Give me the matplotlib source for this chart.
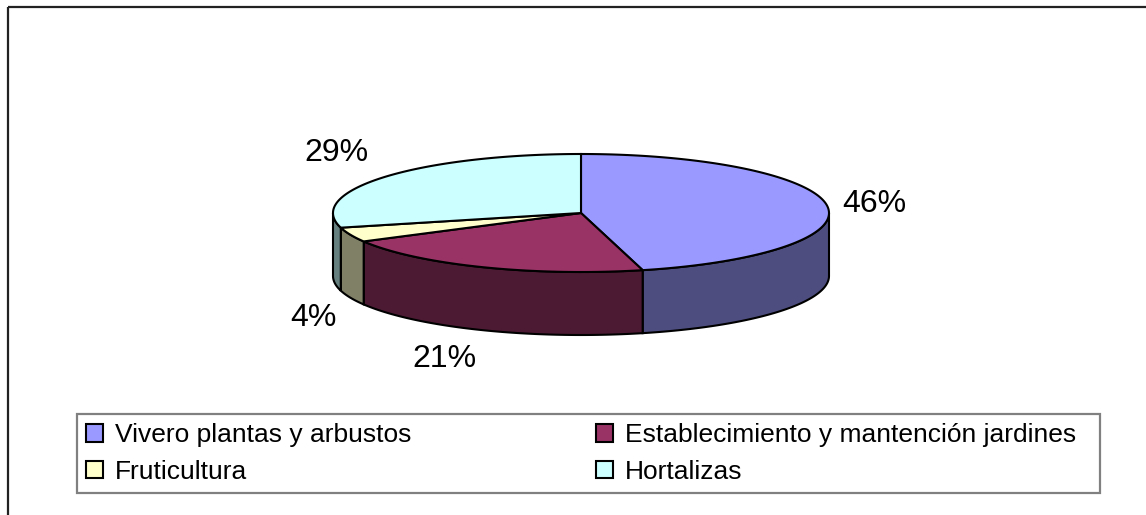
import numpy as np
import matplotlib
matplotlib.use("Agg")
import matplotlib.pyplot as plt
from matplotlib.patches import Polygon, Patch, Rectangle
from matplotlib.colors import to_rgb

plt.rcParams['font.family'] = ['Liberation Sans', 'DejaVu Sans']

# data
labels = ['Vivero plantas y arbustos', 'Establecimiento y mantención jardines',
          'Fruticultura', 'Hortalizas']
shares = [46, 21, 4, 29]
pct_text = ['46%', '21%', '4%', '29%']
top_colors = ['#9999FF', '#993366', '#FFFFCC', '#CCFFFF']

# pie geometry (pixels, y down)
cx, cy = 581, 213
rx, ry = 248, 59
depth = 63

def rim(th, dy=0):
    th = np.radians(th)
    return np.column_stack([cx + rx * np.sin(th), cy - ry * np.cos(th) + dy])

fig = plt.figure(figsize=(11.46, 5.15), dpi=100)
ax = fig.add_axes([0, 0, 1, 1])
ax.set_xlim(0, 1146)
ax.set_ylim(515, 0)
ax.axis('off')

# outer chart border
ax.add_patch(Rectangle((8, 7), 1200, 600, fill=False, edgecolor='#222222', lw=1.6))

fracs = np.array(shares) / sum(shares)
edges = np.concatenate([[0], np.cumsum(fracs) * 360])

# side walls (front half only, 90..270 deg clockwise from top)
for i in range(len(shares)):
    a, b = max(edges[i], 90), min(edges[i + 1], 270)
    if b <= a:
        continue
    th = np.linspace(a, b, 80)
    pts = np.vstack([rim(th), rim(th[::-1], depth)])
    side = tuple(c * 0.5 for c in to_rgb(top_colors[i]))
    ax.add_patch(Polygon(pts, closed=True, facecolor=side, edgecolor='black', lw=1.5))

# top faces
for i in range(len(shares)):
    th = np.linspace(edges[i], edges[i + 1], 200)
    pts = np.vstack([[cx, cy], rim(th)])
    ax.add_patch(Polygon(pts, closed=True, facecolor=top_colors[i],
                         edgecolor='black', lw=1.5, joinstyle='miter'))

# percentage labels
g = 15
for i in range(len(shares)):
    mid = np.radians((edges[i] + edges[i + 1]) / 2)
    s, c = np.sin(mid), np.cos(mid)
    x = cx + (rx + g) * s
    y = cy - (ry + g) * c + (depth if c < 0 else 0)
    if c > 0.3 and s < 0:
        x -= 5
    ha = 'left' if s > 0.3 else ('right' if s < -0.3 else 'center')
    va = 'bottom' if c > 0.3 else ('top' if c < -0.3 else 'center')
    ax.text(x, y, pct_text[i], fontsize=23, ha=ha, va=va, color='black')

# legend box
ax.add_patch(Rectangle((77, 414), 1023, 79, fill=False, edgecolor='#808080', lw=1.6))

handles = [Patch(facecolor=col, edgecolor='black', lw=1.5) for col in top_colors]
order = [0, 2, 1, 3]
leg = ax.legend([handles[k] for k in order], [labels[k] for k in order],
                ncol=2, loc='upper left',
                bbox_to_anchor=(86 / 1146, 1 - 423 / 515),
                borderaxespad=0, borderpad=0, fontsize=19, frameon=False,
                handlelength=0.65, handleheight=0.65,
                handletextpad=0.45, labelspacing=0.48,
                columnspacing=7.0)

fig.savefig('out.png', dpi=100)
